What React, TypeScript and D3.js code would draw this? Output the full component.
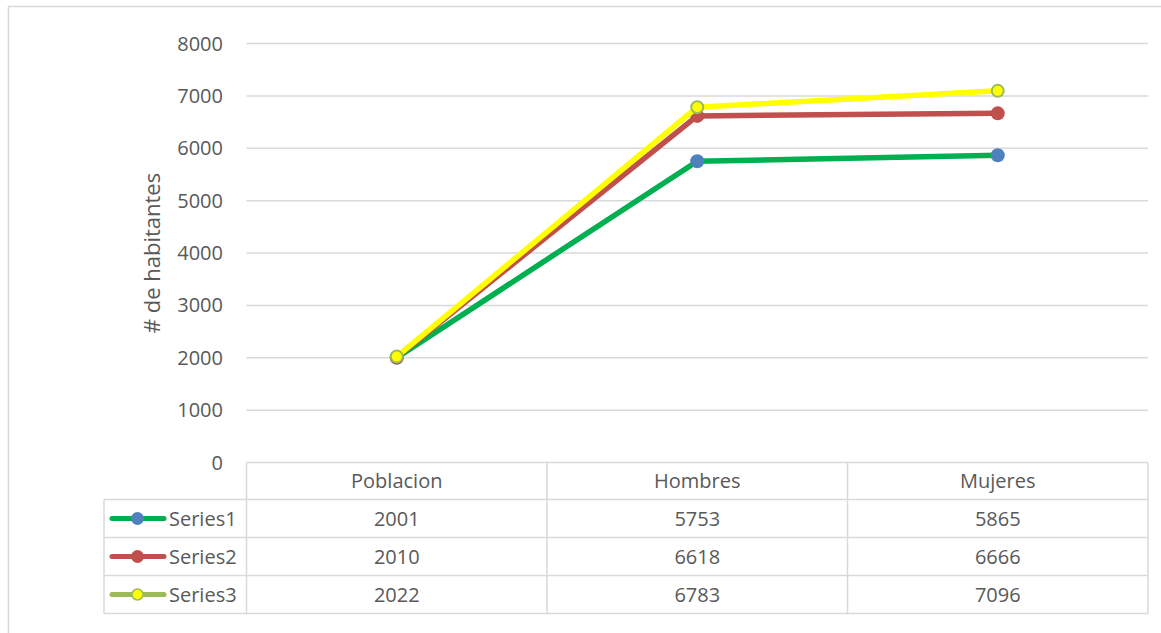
import React from "react";
import * as d3 from "d3";

const categories = ["Poblacion", "Hombres", "Mujeres"];
const seriesNames = ["Series1", "Series2", "Series3"];
const series1 = [2001, 5753, 5865];
const series2 = [2010, 6618, 6666];
const series3 = [2022, 6783, 7096];
const yTicks = [0, 1000, 2000, 3000, 4000, 5000, 6000, 7000, 8000];

const seriesData = [series1, series2, series3];
const lineColors = ["#00B050", "#C0504D", "#FFFF00"];
const keyLineColors = ["#00B050", "#C0504D", "#9BBB59"];
const markerFill = ["#4F81BD", "#C0504D", "#FFFF00"];
const markerStroke = ["#4F81BD", "#C0504D", "#9BBB59"];

const FONT = "'Open Sans', 'Noto Sans', sans-serif";
const TXT = "#595959";
const GRID = "#D9D9D9";

export default function App() {
  const plotLeft = 246.5;
  const plotRight = 1148;
  const y = d3.scaleLinear().domain([0, 8000]).range([462.5, 43.5]);
  const x = d3
    .scaleBand<string>()
    .domain(categories)
    .range([plotLeft, plotRight]);
  const cx = (c: string) => (x(c) as number) + x.bandwidth() / 2;

  const line = d3
    .line<number>()
    .x((_, i) => cx(categories[i]))
    .y((v) => y(v));

  const rowTops = [462.5, 499.5, 537.5, 575.5, 613.5];
  const legendLeft = 104;

  return (
    <svg
      width={1161}
      height={633}
      style={{ position: "absolute", left: 0, top: 0, background: "#fff" }}
    >
      <rect x={8.5} y={6.5} width={1170} height={640} fill="#fff" stroke={GRID} strokeWidth={1.5} />
      {/* gridlines */}
      {yTicks.map((t) => (
        <g key={t}>
          {t > 0 && (
            <line x1={plotLeft} x2={plotRight} y1={y(t)} y2={y(t)} stroke={GRID} strokeWidth={1.5} />
          )}
          <text
            x={223}
            y={y(t)}
            dy="0.35em"
            textAnchor="end"
            fontFamily={FONT}
            fontSize={20}
            fill={TXT}
          >
            {t}
          </text>
        </g>
      ))}
      {/* y axis title */}
      <text
        transform={`translate(160,253) rotate(-90)`}
        textAnchor="middle"
        fontFamily={FONT}
        fontSize={22}
        fill={TXT}
      >
        # de habitantes
      </text>
      {/* data table */}
      <g stroke={GRID} strokeWidth={1.5} fill="none">
        {/* header row */}
        <line x1={plotLeft} x2={plotRight} y1={rowTops[0]} y2={rowTops[0]} />
        {rowTops.slice(1).map((ry, i) => (
          <line key={i} x1={legendLeft} x2={plotRight} y1={ry} y2={ry} />
        ))}
        {[plotLeft, ...categories.map((c) => (x(c) as number) + x.bandwidth())].map((vx, i) => (
          <line key={"v" + i} x1={vx} x2={vx} y1={rowTops[0]} y2={rowTops[4]} />
        ))}
        <line x1={legendLeft} x2={legendLeft} y1={rowTops[1]} y2={rowTops[4]} />
      </g>
      {categories.map((c) => (
        <text
          key={c}
          x={cx(c)}
          y={(rowTops[0] + rowTops[1]) / 2}
          dy="0.35em"
          textAnchor="middle"
          fontFamily={FONT}
          fontSize={20}
          fill={TXT}
        >
          {c}
        </text>
      ))}
      {seriesData.map((vals, si) => {
        const my = (rowTops[si + 1] + rowTops[si + 2]) / 2;
        return (
          <g key={"row" + si}>
            <line
              x1={112}
              x2={164}
              y1={my}
              y2={my}
              stroke={keyLineColors[si]}
              strokeWidth={5}
              strokeLinecap="round"
            />
            <circle
              cx={137.5}
              cy={my}
              r={si === 2 ? 5.5 : 6.5}
              fill={markerFill[si]}
              stroke={markerStroke[si]}
              strokeWidth={si === 2 ? 1.5 : 0}
            />
            <text x={169} y={my} dy="0.35em" fontFamily={FONT} fontSize={20} fill={TXT}>
              {seriesNames[si]}
            </text>
            {vals.map((v, i) => (
              <text
                key={i}
                x={cx(categories[i])}
                y={my}
                dy="0.35em"
                textAnchor="middle"
                fontFamily={FONT}
                fontSize={20}
                fill={TXT}
              >
                {v}
              </text>
            ))}
          </g>
        );
      })}
      {/* lines */}
      {seriesData.map((vals, si) => (
        <g key={"s" + si}>
          <path
            d={line(vals) as string}
            fill="none"
            stroke={lineColors[si]}
            strokeWidth={5.5}
            strokeLinejoin="round"
            strokeLinecap="round"
          />
          {vals.map((v, i) => (
            <circle
              key={i}
              cx={cx(categories[i])}
              cy={y(v)}
              r={si === 2 ? 6 : 7}
              fill={markerFill[si]}
              stroke={markerStroke[si]}
              strokeWidth={si === 2 ? 2 : 0}
            />
          ))}
        </g>
      ))}
    </svg>
  );
}
